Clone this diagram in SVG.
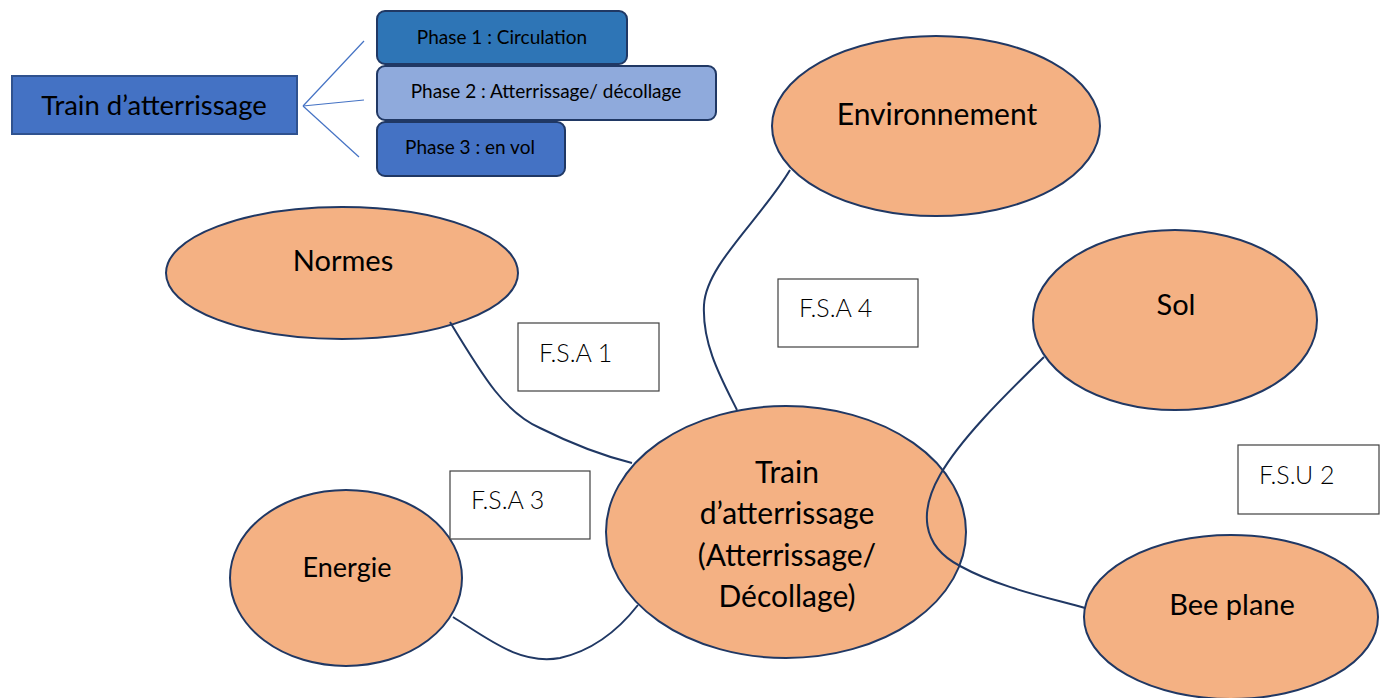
<svg xmlns="http://www.w3.org/2000/svg" width="1380" height="698" viewBox="0 0 1380 698">
<style>
.el{fill:#F4B183;stroke:#203864;stroke-width:2}
.t{font-family:Lato,"Open Sans","Liberation Sans",sans-serif;fill:#000;text-anchor:middle}
.big{font-size:29px}
.lbl{fill:#fff;stroke:#404040;stroke-width:1.2}
.lt{font-family:Lato,"Open Sans","Liberation Sans",sans-serif;font-weight:300;font-size:25px;fill:#000}
.ph{stroke:#203864;stroke-width:2}
.pt{font-size:19px}
.con{fill:none;stroke:#203864;stroke-width:2}
.br{stroke:#4472C4;stroke-width:1.2}
</style>
<rect width="1380" height="698" fill="#fff"/>
<g id="legend">
<rect x="12" y="76" width="285" height="58" fill="#4472C4" stroke="#2F528F" stroke-width="2"/>
<text class="t" x="154" y="115" font-size="27.5">Train d’atterrissage</text>
<line class="br" x1="303" y1="106" x2="364" y2="41"/>
<line class="br" x1="303" y1="106" x2="364" y2="100"/>
<line class="br" x1="303" y1="106" x2="359" y2="157"/>
</g>
<g id="phase1"><rect class="ph" x="377" y="11" width="250" height="53" rx="8" fill="#2E75B6"/><text class="t pt" x="502" y="44">Phase 1 : Circulation</text></g>
<g id="phase2"><rect class="ph" x="377" y="66" width="339" height="54" rx="8" fill="#8FAADC"/><text class="t pt" x="546" y="98">Phase 2 : Atterrissage/ décollage</text></g>
<g id="phase3"><rect class="ph" x="377" y="122" width="188" height="54" rx="8" fill="#4472C4"/><text class="t pt" x="470" y="154">Phase 3 : en vol</text></g>
<g id="environnement"><ellipse class="el" cx="936" cy="126" rx="164" ry="90"/><text class="t" font-size="30" x="937" y="125">Environnement</text></g>
<g id="normes"><ellipse class="el" cx="342" cy="273" rx="176" ry="66"/><text class="t big" x="343" y="271">Normes</text></g>
<g id="sol"><ellipse class="el" cx="1175" cy="320" rx="142" ry="90"/><text class="t big" x="1176" y="315">Sol</text></g>
<g id="train"><ellipse class="el" cx="786" cy="532" rx="180" ry="126"/>
<text class="t" font-size="30" x="787" y="483">Train</text>
<text class="t" font-size="30" x="787" y="524">d’atterrissage</text>
<text class="t" font-size="30" x="787" y="566">(Atterrissage/</text>
<text class="t" font-size="30" x="787" y="607">Décollage)</text></g>
<g id="energie"><ellipse class="el" cx="346" cy="578" rx="116" ry="88"/><text class="t" font-size="27" x="347" y="577">Energie</text></g>
<g id="beeplane"><ellipse class="el" cx="1231" cy="617" rx="147" ry="82"/><text class="t big" x="1232" y="615">Bee plane</text></g>
<g id="fsa1"><rect class="lbl" x="518" y="323" width="141" height="68"/><text class="lt" x="539" y="362">F.S.A 1</text></g>
<g id="fsa4"><rect class="lbl" x="778" y="279" width="140" height="68"/><text class="lt" x="799" y="317">F.S.A 4</text></g>
<g id="fsa3"><rect class="lbl" x="450" y="471" width="140" height="68"/><text class="lt" x="471" y="509">F.S.A 3</text></g>
<g id="fsu2"><rect class="lbl" x="1238" y="445" width="141" height="69"/><text class="lt" x="1259" y="484">F.S.U 2</text></g>
<g id="connectors">
<path class="con" d="M450,322 C485,380 505,412 540,428 C570,443 600,455 632,463"/>
<path class="con" d="M790,170 C760,220 706,265 704,305 C702,345 722,380 737,410"/>
<path class="con" d="M453,617 C490,640 520,665 560,658 C595,650 620,628 638,605"/>
<path class="con" d="M1044,357 C1000,400 960,440 940,475 C920,510 920,545 960,566 C1000,588 1050,598 1085,608"/>
</g>
</svg>
